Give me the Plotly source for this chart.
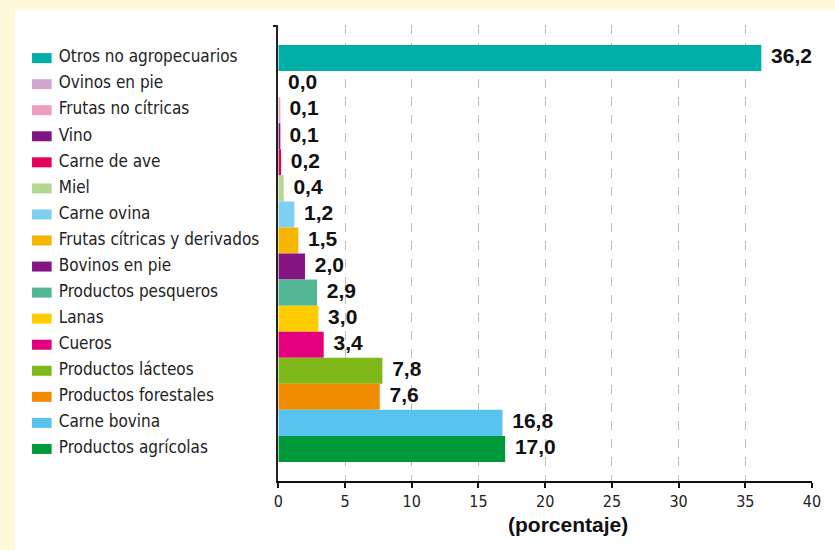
import plotly.graph_objects as go

categories = [
    "Otros no agropecuarios", "Ovinos en pie", "Frutas no cítricas", "Vino",
    "Carne de ave", "Miel", "Carne ovina", "Frutas cítricas y derivados",
    "Bovinos en pie", "Productos pesqueros", "Lanas", "Cueros",
    "Productos lácteos", "Productos forestales", "Carne bovina", "Productos agrícolas",
]
values = [36.2, 0.0, 0.1, 0.1, 0.2, 0.4, 1.2, 1.5, 2.0, 2.9, 3.0, 3.4, 7.8, 7.6, 16.8, 17.0]
colors = [
    "#00AEA8", "#D0A8CC", "#EF9DC3", "#7F1580", "#E5005A", "#B5D78F", "#7FCFF2", "#F8B500",
    "#841482", "#52B794", "#FFCC00", "#E4007D", "#80B819", "#F08C00", "#59C3F0", "#009A3A",
]
x_ticks = [0, 5, 10, 15, 20, 25, 30, 35, 40]
x_title = "(porcentaje)"

positions = list(range(len(categories)))
labels = [f"{v:.1f}".replace(".", ",") for v in values]

NARROW = "DejaVu Sans Condensed, Liberation Sans Narrow, Arial Narrow, sans-serif"
BOLD = "Liberation Sans, Arial, sans-serif"
CREAM = "#FFF9DB"

fig = go.Figure()

fig.add_trace(go.Bar(
    x=values, y=positions, orientation="h", width=1,
    marker=dict(color=colors, line=dict(width=0)),
    xaxis="x", yaxis="y", showlegend=False, hoverinfo="skip",
))

fig.add_trace(go.Scatter(
    x=values, y=positions, mode="markers+text", text=labels,
    textposition="middle right",
    textfont=dict(family=BOLD, size=21, color="#111", weight="bold"),
    marker=dict(size=14, opacity=0),
    xaxis="x", yaxis="y", showlegend=False, hoverinfo="skip", cliponaxis=False,
))

# legend column: swatches + names placed on an auxiliary axis
fig.add_trace(go.Scatter(
    x=[27] * len(categories), y=positions, mode="markers",
    marker=dict(symbol="line-ew", size=14, color=colors, line=dict(width=10, color=colors)),
    xaxis="x2", yaxis="y", showlegend=False, hoverinfo="skip", cliponaxis=False,
))
fig.add_trace(go.Scatter(
    x=[44] * len(categories), y=positions, mode="text", text=categories,
    textposition="middle right",
    textfont=dict(family=NARROW, size=17, color="#222"),
    xaxis="x2", yaxis="y", showlegend=False, hoverinfo="skip", cliponaxis=False,
))

dom0 = (275 - 10) / 802

fig.update_layout(
    width=835, height=550,
    margin=dict(l=10, r=23, t=25, b=69),
    paper_bgcolor=CREAM,
    plot_bgcolor="rgba(0,0,0,0)",
    barmode="overlay",
    xaxis=dict(
        domain=[dom0, 1], range=[0, 40], tickvals=x_ticks,
        ticks="outside", ticklen=5, tickcolor="#111", tickwidth=1.5,
        showline=True, linecolor="#111", linewidth=1.5,
        showgrid=True, gridcolor="#bdbdbd", griddash="dash", gridwidth=1,
        zeroline=False, anchor="y",
        tickfont=dict(family=NARROW, size=16, color="#222"),
    ),
    xaxis2=dict(domain=[0, dom0], range=[0, 265], visible=False, anchor="y"),
    yaxis=dict(
        range=[16.23, -1.27], tickvals=[-1.25], ticks="outside", ticklen=4,
        tickcolor="#222", tickwidth=1.5, showticklabels=False,
        showline=True, linecolor="#222", linewidth=1.5,
        showgrid=False, zeroline=False, anchor="x",
    ),
    shapes=[dict(
        type="rect", xref="paper", yref="paper",
        x0=0, x1=1.05, y0=-0.3, y1=1 + 15 / 456,
        fillcolor="white", line=dict(width=0), layer="below",
    )],
    annotations=[dict(
        text=x_title, xref="paper", yref="paper",
        x=(566 - 10) / 802, y=-(524 - 481) / 456,
        xanchor="center", yanchor="middle", showarrow=False,
        font=dict(family=BOLD, size=21, color="#111", weight="bold"),
    )],
)

fig.write_html(
    "out.html",
    config={"displayModeBar": False},
    post_script="document.body.style.margin='0';document.body.style.overflow='hidden';",
)
